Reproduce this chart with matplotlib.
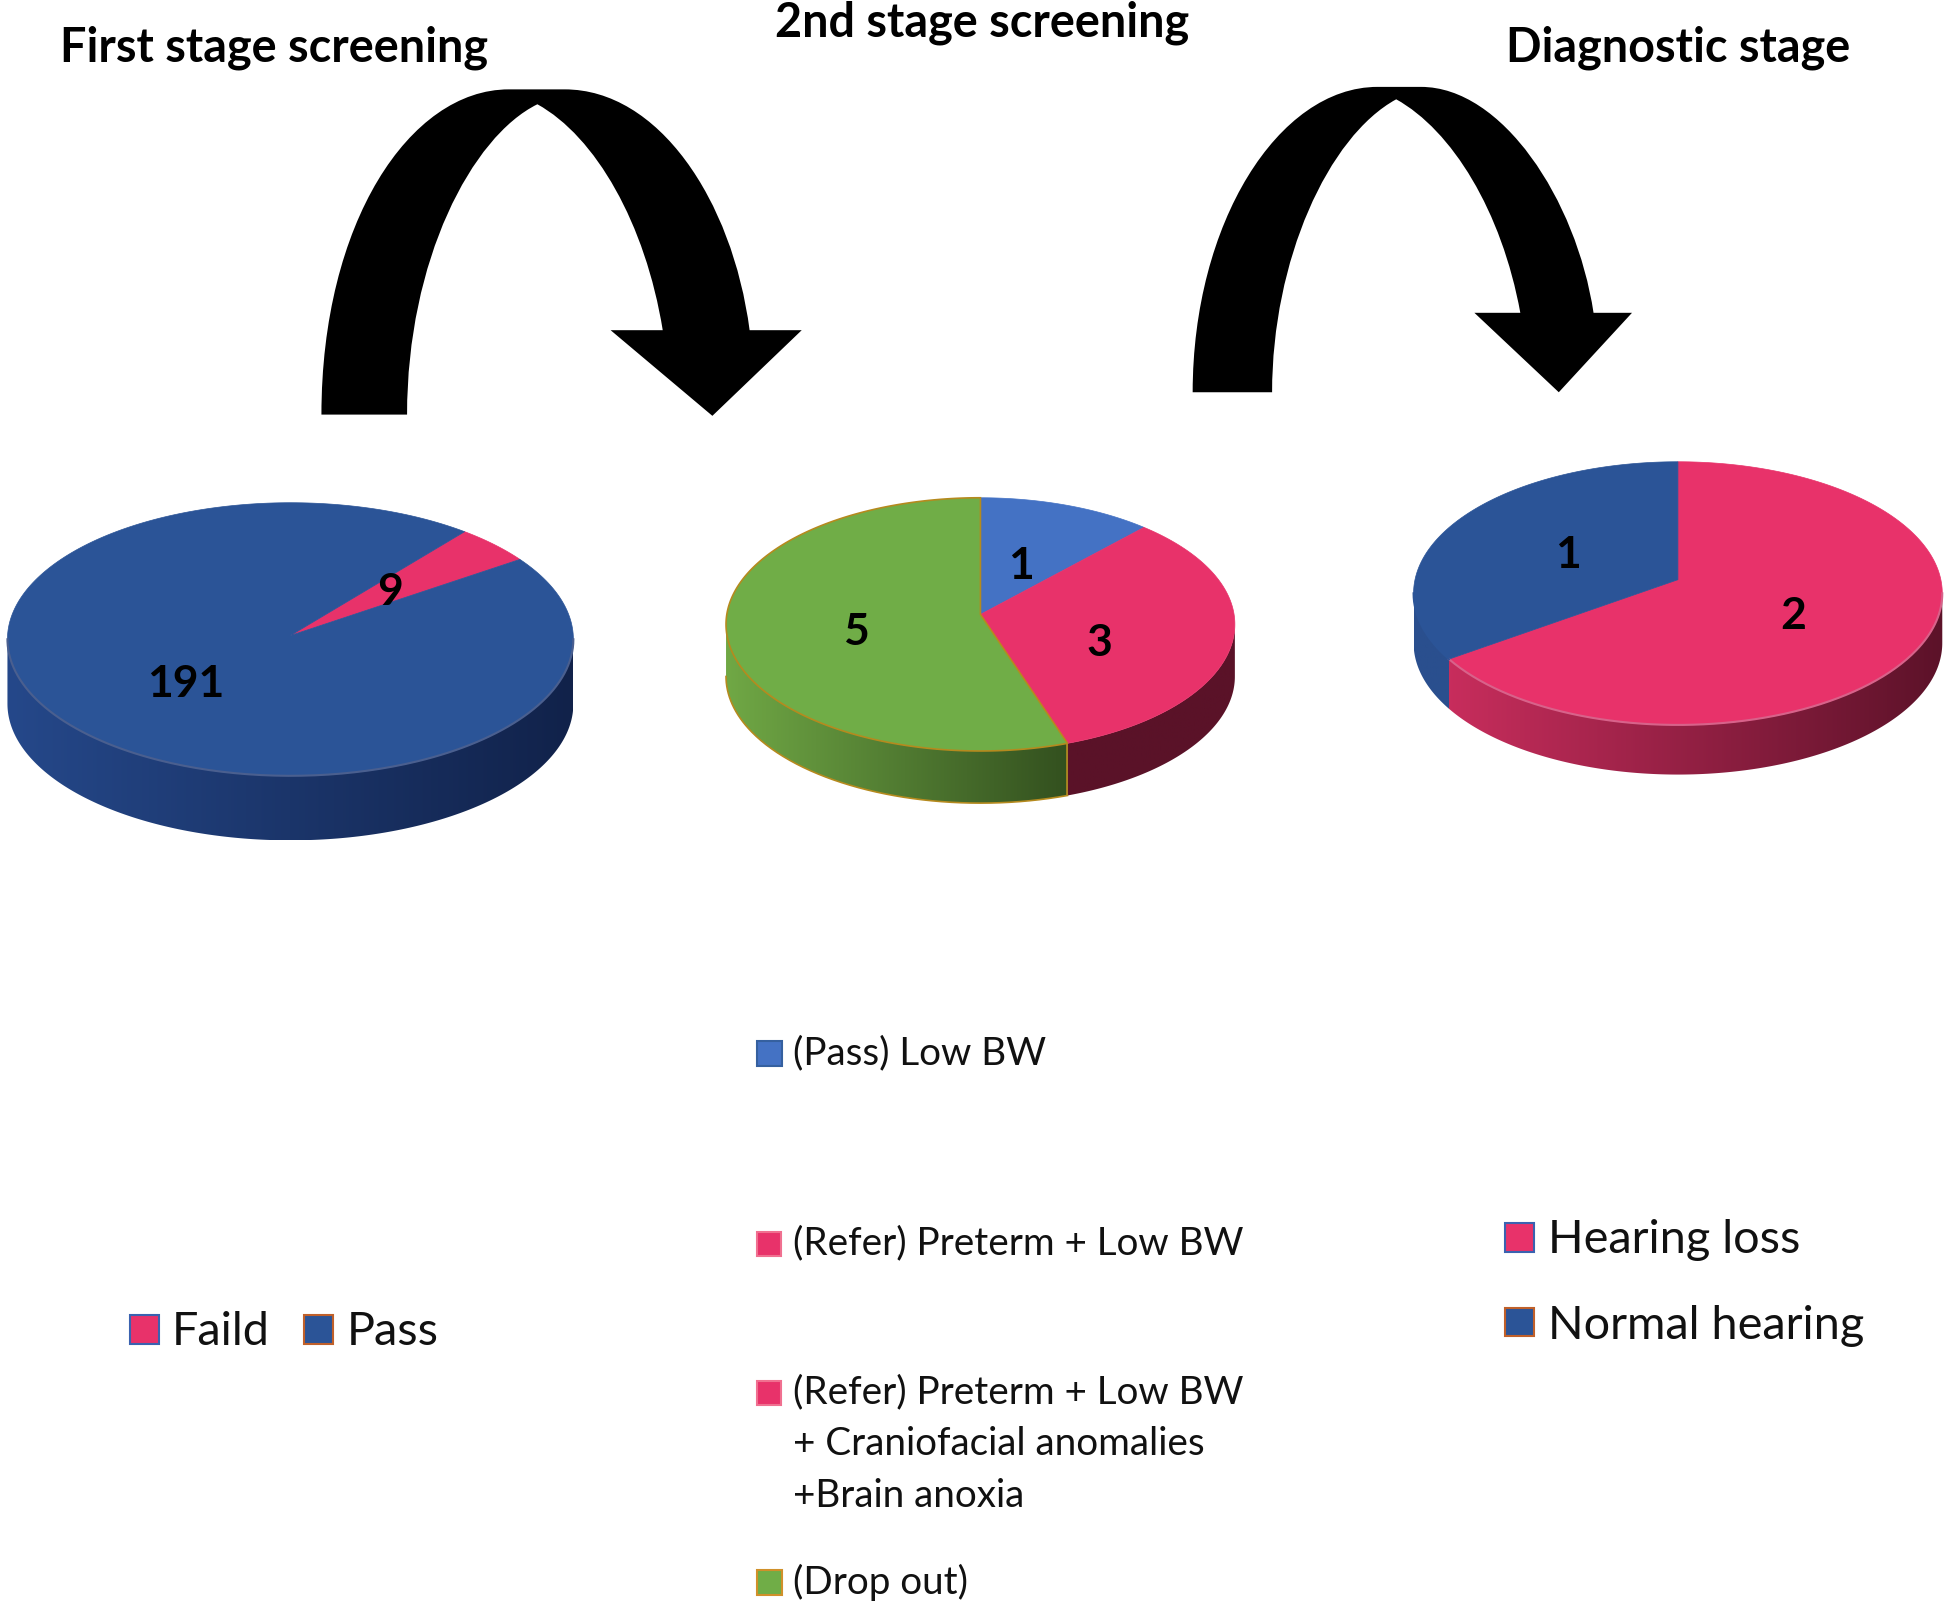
# Three 3D-looking pies with arrows between the stages
import numpy as np
import matplotlib
matplotlib.use("Agg")
import matplotlib.pyplot as plt
from matplotlib.colors import LinearSegmentedColormap
from matplotlib.patches import Polygon, Rectangle, PathPatch
from matplotlib.path import Path

plt.rcParams["font.family"] = ["Lato", "DejaVu Sans"]

stage_titles = ["First stage screening", "2nd stage screening", "Diagnostic stage"]

first_values = [9, 191]
second_values = [1, 3, 5]
third_values = [2, 1]

first_legend = ["Faild", "Pass"]
second_legend = ["(Pass) Low BW", "(Refer) Preterm + Low BW",
                 "(Refer) Preterm + Low BW\n+ Craniofacial anomalies\n+Brain anoxia",
                 "(Drop out)"]
third_legend = ["Hearing loss", "Normal hearing"]

PINK = "#e8326a"
BLUE = "#2b5497"
LIGHT_BLUE = "#4472c4"
GREEN = "#70ad47"
GOLD = "#b58a1e"

fig = plt.figure(figsize=(19.46, 16.05), dpi=100)
ax = fig.add_axes([0, 0, 1, 1])


def reset_axes():
    # coordinates are the 1568 wide preview, y going down
    ax.set_xlim(0, 1568)
    ax.set_ylim(1293, 0)
    ax.axis("off")


def draw_pie(values, start, colors, walls, cx, cy, rx, ry, apex_y, depth, edges=None, rim=None):
    angles = start + np.cumsum([0] + list(values)) / sum(values) * 360
    for i in range(len(values)):
        t0, t1 = angles[i], angles[i + 1]
        edge = edges[i] if edges else None

        # side wall, only the part of the rim that faces us
        a, b = max(t0, 90), min(t1, 270)
        if b > a:
            t = np.radians(np.linspace(a, b, 200))
            xs = cx + rx * np.sin(t)
            ys = cy - ry * np.cos(t)
            pts = np.vstack([np.column_stack([xs, ys]),
                             np.column_stack([xs, ys + depth])[::-1]])
            poly = Polygon(pts, closed=True, transform=ax.transData, fc="none", ec="none")
            ax.add_patch(poly)
            cmap = LinearSegmentedColormap.from_list("wall", walls[i])
            grad = np.linspace(0, 1, 256).reshape(1, -1)
            im = ax.imshow(grad, cmap=cmap, aspect="auto", zorder=2,
                           extent=[cx - rx, cx + rx, cy + ry + depth, cy - ry])
            im.set_clip_path(poly)
            if edge:
                ax.plot(xs, ys + depth, color=edge, lw=1.2, zorder=3)
                ax.plot([xs[0], xs[0]], [ys[0], ys[0] + depth], color=edge, lw=1.2, zorder=3)

        # top face
        t = np.radians(np.linspace(t0, t1, 300))
        xs = cx + rx * np.sin(t)
        ys = cy - ry * np.cos(t)
        top = np.vstack([[cx, apex_y], np.column_stack([xs, ys])])
        ax.add_patch(Polygon(top, closed=True, fc=colors[i], zorder=4,
                             ec=edge if edge else colors[i], lw=1.2 if edge else 0.5))

        # lighter line where the top meets the wall
        if rim and b > a:
            t = np.radians(np.linspace(a, b, 200))
            ax.plot(cx + rx * np.sin(t), cy - ry * np.cos(t), color=rim[i], lw=1.5, zorder=5)
    reset_axes()


draw_pie(first_values, 38, [PINK, BLUE],
         [["#e8326a", "#e8326a"], ["#25488a", "#11224a"]],
         234, 515, 228, 110, 512, 52, rim=[PINK, "#4a5f8f"])
draw_pie(second_values, 0, [LIGHT_BLUE, PINK, GREEN],
         [["#5a1228", "#5a1228"], ["#5a1228", "#5a1228"], ["#70a845", "#15250c"]],
         790, 503, 205, 102, 495, 42, edges=[None, None, GOLD])
draw_pie(third_values, 0, [PINK, BLUE],
         [["#cf2f60", "#5c1229"], ["#2a4f8e", "#2a4f8e"]],
         1352, 478, 213, 106, 467, 40, rim=["#d8628a", BLUE])

# arrows
M, C, L, Z = Path.MOVETO, Path.CURVE4, Path.LINETO, Path.CLOSEPOLY
arrow1 = [(259, 334), (259, 180), (330, 72), (410, 72), (455, 72), (530, 72), (590, 160),
          (604, 266), (646, 266), (574, 335), (492, 266), (534, 266), (520, 180), (480, 110),
          (433, 84), (380, 110), (328, 210), (328, 334), (259, 334)]
arrow2 = [(961, 316), (961, 180), (1030, 70), (1110, 70), (1145, 70), (1210, 70), (1270, 160),
          (1284, 252), (1315, 252), (1256, 316), (1188, 252), (1225, 252), (1210, 170), (1170, 105),
          (1125, 80), (1070, 110), (1025, 210), (1025, 316), (961, 316)]
codes = [M, C, C, C, L, C, C, C, L, L, L, L, C, C, C, C, C, C, Z]
for arrow in [arrow1, arrow2]:
    ax.add_patch(PathPatch(Path(arrow, codes), fc="black", ec="none", zorder=6))

# titles
title_x = [221, 791, 1352]
title_y = [38.5, 18.5, 38.5]
for name, x, y in zip(stage_titles, title_x, title_y):
    ax.text(x, y, name, fontsize=33.7, fontweight="bold", ha="center", va="center", zorder=7)

# value labels
label_text = [first_values[1], first_values[0], second_values[0], second_values[1],
              second_values[2], third_values[1], third_values[0]]
label_x = [150, 314, 823, 886, 690, 1263, 1445]
label_y = [551, 477, 456, 518, 509, 447, 496]
for val, x, y in zip(label_text, label_x, label_y):
    ax.text(x, y, str(val), fontsize=32, fontweight="bold", ha="center", va="center", zorder=7)


def legend_item(x, y, size, label, color, edge, tx, fontsize, shift):
    ax.add_patch(Rectangle((x, y - size / 2), size, size, fc=color, ec=edge, lw=1.5, zorder=7))
    ax.text(tx, y - shift, label, fontsize=fontsize, ha="left", va="top",
            linespacing=1.55, color="#111111", zorder=7)


legend_item(105, 1071, 23, first_legend[0], PINK, "#3a62b0", 138, 33.7, 15)
legend_item(245, 1071, 23, first_legend[1], BLUE, "#c0602a", 279, 33.7, 15)

legend_item(610, 849, 20, second_legend[0], LIGHT_BLUE, "#35609f", 639, 27.8, 15)
legend_item(610, 1002, 19, second_legend[1], PINK, "#f07090", 639, 27.8, 15)
legend_item(610, 1122, 19, second_legend[2], PINK, "#f07090", 639, 27.8, 15)
legend_item(610, 1275, 20, second_legend[3], GREEN, "#d0902a", 639, 27.8, 15)

legend_item(1213, 997, 23, third_legend[0], PINK, "#3a62b0", 1247, 33.7, 15)
legend_item(1213, 1065, 23, third_legend[1], BLUE, "#c0602a", 1247, 33.7, 14)

reset_axes()
fig.savefig("out.png", dpi=100, facecolor="white")
